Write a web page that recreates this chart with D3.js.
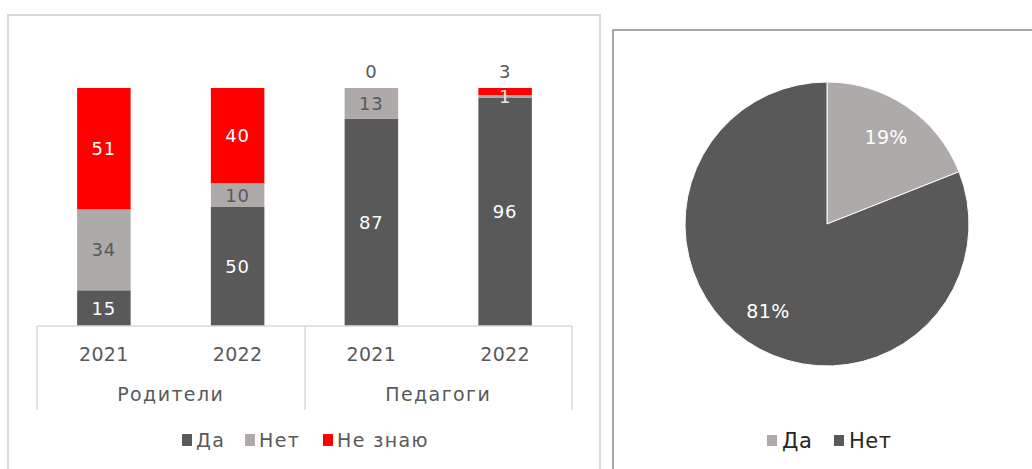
<!DOCTYPE html>
<html><head><meta charset="utf-8">
<script src="https://cdn.jsdelivr.net/npm/d3@7"></script>
<style>body{margin:0;background:#fff}svg{display:block}text{font-family:"DejaVu Sans",sans-serif}</style>
</head><body>
<svg id="c" width="1032" height="469"></svg>
<script>
const groups = ["Родители","Родители","Педагоги","Педагоги"];
const years = ["2021","2022","2021","2022"];
const seriesNames = ["Да","Нет","Не знаю"];
const yesVals = [15,50,87,96];
const noVals = [34,10,13,1];
const dkVals = [51,40,0,3];
const pieLabels = ["Да","Нет"];
const pieVals = [19,81];

const colors = {"Да":"#595959","Нет":"#aeaaaa","Не знаю":"#ff0000"};
const pieColors = ["#aeaaaa","#595959"];
const svg = d3.select("#c");

// frames
svg.append("rect").attr("x",8).attr("y",15).attr("width",592).attr("height",470)
  .attr("fill","none").attr("stroke","#d9d9d9").attr("stroke-width",2);
svg.append("rect").attr("x",613).attr("y",30).attr("width",440).attr("height",460)
  .attr("fill","none").attr("stroke","#8c8c8c").attr("stroke-width",1.5);

// bar chart
const cats = years.map((y,i)=>i);
const x = d3.scaleBand().domain(cats).range([37,572]).paddingInner(0.6).paddingOuter(0.3);
const y = d3.scaleLinear().domain([0,100]).range([326,88]);
const rows = cats.map(i=>({i, "Да":yesVals[i], "Нет":noVals[i], "Не знаю":dkVals[i]}));
const stack = d3.stack().keys(seriesNames)(rows);
const layers = svg.append("g").selectAll("g").data(stack).join("g").attr("fill",d=>colors[d.key]);
layers.selectAll("rect").data(d=>d).join("rect")
  .attr("x",d=>x(d.data.i)).attr("width",x.bandwidth())
  .attr("y",d=>y(d[1])).attr("height",d=>y(d[0])-y(d[1]));

// labels
const labelColor = {"Да":"#ffffff","Нет":"#595959","Не знаю":"#ffffff"};
stack.forEach(layer=>{
  layer.forEach(d=>{
    const v = d[1]-d[0];
    let ty = (y(d[0])+y(d[1]))/2, col = labelColor[layer.key];
    if (layer.key==="Не знаю" && v<5) { ty = y(100)-17; col="#595959"; }
    if (layer.key==="Нет" && v<5) { col="#e6e6e6"; }
    svg.append("text").attr("x",x(d.data.i)+x.bandwidth()/2).attr("y",ty)
      .attr("text-anchor","middle").attr("dominant-baseline","central")
      .attr("font-size",18).attr("letter-spacing",0.8).attr("fill",col).text(v);
  });
});

// axis
const ax = svg.append("g").attr("stroke","#d9d9d9").attr("stroke-width",1.5);
ax.append("line").attr("x1",37).attr("x2",572).attr("y1",326).attr("y2",326);
[37,305,572].forEach(px=>ax.append("line").attr("x1",px).attr("x2",px).attr("y1",326).attr("y2",410));
cats.forEach(i=>svg.append("text").attr("x",x(i)+x.bandwidth()/2).attr("y",354)
  .attr("text-anchor","middle").attr("dominant-baseline","central").attr("font-size",19)
  .attr("letter-spacing",0.3).attr("fill","#595959").text(years[i]));
const grpNames = Array.from(new Set(groups));
grpNames.forEach(g=>{
  const idx = cats.filter(i=>groups[i]===g);
  const cx = (x(idx[0])+x(idx[idx.length-1])+x.bandwidth())/2;
  svg.append("text").attr("x",cx).attr("y",394).attr("text-anchor","middle")
    .attr("dominant-baseline","central").attr("font-size",19).attr("letter-spacing",1.4)
    .attr("fill","#595959").text(g);
});

// bar legend
const legX = [182,245,323];
seriesNames.forEach((s,k)=>{
  svg.append("rect").attr("x",legX[k]).attr("y",434).attr("width",10).attr("height",12).attr("fill",colors[s]);
  svg.append("text").attr("x",legX[k]+14).attr("y",440).attr("dominant-baseline","central")
    .attr("font-size",19).attr("letter-spacing",1.4).attr("fill","#595959").text(s);
});

// pie
const cx = 827, cy = 224, r = 142;
const arcs = d3.pie().sort(null)(pieVals);
const arc = d3.arc().innerRadius(0).outerRadius(r);
const pg = svg.append("g").attr("transform",`translate(${cx},${cy})`);
pg.selectAll("path").data(arcs).join("path").attr("d",arc)
  .attr("fill",(d,i)=>pieColors[i]).attr("stroke","#fff").attr("stroke-width",1);
const lab = d3.arc().innerRadius(r*0.74).outerRadius(r*0.74);
pg.selectAll("text").data(arcs).join("text")
  .attr("transform",d=>`translate(${lab.centroid(d)})`)
  .attr("text-anchor","middle").attr("dominant-baseline","central")
  .attr("font-size",19).attr("letter-spacing",0.3).attr("fill","#fff").text(d=>d.data+"%");

const pLegX = [767,834];
pieLabels.forEach((s,k)=>{
  svg.append("rect").attr("x",pLegX[k]).attr("y",435).attr("width",10).attr("height",11).attr("fill",pieColors[k]);
  svg.append("text").attr("x",pLegX[k]+15).attr("y",441).attr("dominant-baseline","central")
    .attr("font-size",21).attr("letter-spacing",0.5).attr("fill","#262626").text(s);
});
</script>
</body></html>
